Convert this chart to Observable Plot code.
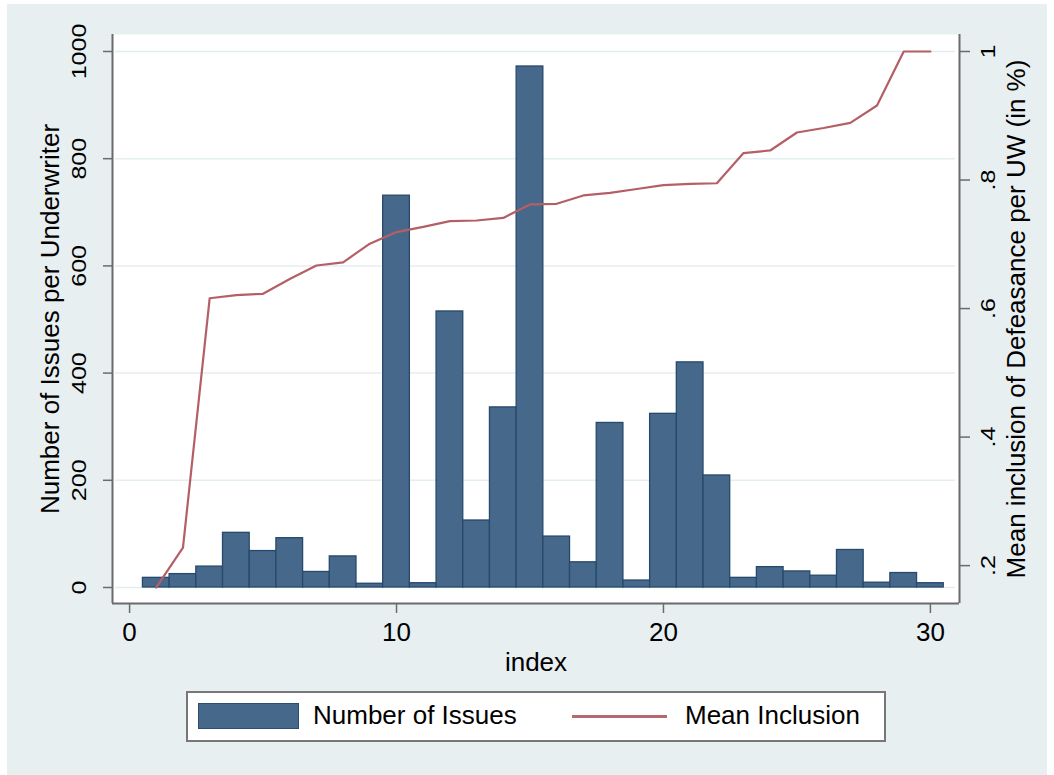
<!DOCTYPE html>
<html>
<head>
<meta charset="utf-8">
<script src="https://cdn.jsdelivr.net/npm/d3@7"></script>
<script src="https://cdn.jsdelivr.net/npm/@observablehq/plot@0.6"></script>
<style>
  body { margin: 0; background: #fff; font-family: "Liberation Sans", Arial, sans-serif; }
  #page { position: relative; width: 1054px; height: 775px; overflow: hidden; background: #fff; }
  #bg { position: absolute; left: 7px; top: 4px; width: 1040px; height: 771px; background: #e8eff1; }
  #chart { position: absolute; left: 0; top: 0; }
  #legend { position: absolute; left: 186px; top: 691px; width: 700px; height: 51px; box-sizing: border-box;
            border: 2px solid #777; background: #fff; }
  #legend .sw { position: absolute; left: 10px; top: 10px; width: 99px; height: 24px; background: #46698b; border: 1px solid #2a4d70; }
  #legend .ln { position: absolute; left: 384px; top: 22px; width: 95px; height: 3px; background: #b8676d; }
  #legend .t { position: absolute; top: 7px; font-size: 26px; line-height: 30px; color: #000; white-space: nowrap; }
</style>
</head>
<body>
<div id="page">
  <div id="bg"></div>
  <div id="chart"></div>
  <div id="legend">
    <div class="sw"></div><div class="t" id="lg1" style="left:125px"></div>
    <div class="ln"></div><div class="t" id="lg2" style="left:497px"></div>
  </div>
</div>
<script>
// ---- data ----
const index = [1,2,3,4,5,6,7,8,9,10,11,12,13,14,15,16,17,18,19,20,21,22,23,24,25,26,27,28,29,30];
const issues = [18,25,39,102,68,92,29,58,7,731,8,515,125,336,972,95,47,307,13,324,420,209,18,38,30,22,70,9,27,8];
const inclusion = [0.166,0.228,0.616,0.621,0.623,0.646,0.667,0.672,0.701,0.719,0.727,0.736,0.737,0.741,0.762,0.763,0.776,0.780,0.786,0.792,0.794,0.795,0.842,0.846,0.874,0.881,0.889,0.916,1.0,1.0];
const xTicks = [0,10,20,30];
const leftTicks = [0,200,400,600,800,1000];
const rightTicks = [0.2,0.4,0.6,0.8,1];
const rightLabels = [".2",".4",".6",".8","1"];
const seriesNames = ["Number of Issues","Mean Inclusion"];
const xTitle = "index";
const leftTitle = "Number of Issues per Underwriter";
const rightTitle = "Mean inclusion of Defeasance per UW (in %)";

// ---- layout ----
const xDomain = [-0.64, 31.09];
const yDomain = [-29.85, 1031.7];
// secondary (right) axis expressed in left-axis units
const toLeft = v => 1000 - (1 - v) * 1199;
const rightLabelOf = new Map(rightTicks.map((v, i) => [toLeft(v), rightLabels[i]]));

const rows = index.map((d, i) => ({index: d, issues: issues[i], inclusion: inclusion[i]}));
const axisColor = "#6b6b6b";

const chart = Plot.plot({
  width: 1054, height: 680,
  marginLeft: 112, marginRight: 95, marginTop: 34, marginBottom: 77,
  style: {fontFamily: '"Liberation Sans", Arial, sans-serif', fontSize: "25px", background: "transparent", color: "#000", overflow: "visible"},
  x: {domain: xDomain},
  y: {domain: yDomain},
  marks: [
    Plot.frame({fill: "#fff", stroke: "none"}),
    Plot.gridY(leftTicks, {stroke: "#e4edf0", strokeOpacity: 1, strokeWidth: 1.5, insetLeft: 3, insetRight: 4}),
    Plot.rect(rows, {x1: d => d.index - 0.5, x2: d => d.index + 0.5, y1: 0, y2: "issues",
                     fill: "#46698b", stroke: "#27496b", strokeWidth: 1.3}),
    Plot.line(rows, {x: "index", y: d => toLeft(d.inclusion), stroke: "#b45f66", strokeWidth: 2.2}),
    Plot.ruleX([xDomain[0], xDomain[1]], {stroke: axisColor, strokeWidth: 2}),
    Plot.ruleY([yDomain[0]], {stroke: axisColor, strokeWidth: 2}),
    Plot.axisX(xTicks, {anchor: "bottom", tickSize: 10, tickPadding: 9, stroke: axisColor, strokeWidth: 1.5,
                        fill: "#000", fontSize: 26, label: null, tickFormat: d => String(d)}),
    Plot.axisY(leftTicks, {anchor: "left", tickSize: 9, tickPadding: 18, tickRotate: -90, stroke: axisColor,
                           strokeWidth: 1.5, fill: "#000", fontSize: 25, label: null, tickFormat: d => String(d)}),
    Plot.axisY(rightTicks.map(toLeft), {anchor: "right", tickSize: 10, tickPadding: 11, tickRotate: -90,
                           lineAnchor: "top", stroke: axisColor, strokeWidth: 1.5, fill: "#000", fontSize: 25,
                           tickFormat: d => rightLabelOf.get(d), label: null}),
    Plot.text([xTitle], {frameAnchor: "bottom", dy: 67, lineAnchor: "bottom", textAnchor: "middle", fontSize: 26, fill: "#000"}),
    Plot.text([leftTitle], {frameAnchor: "left", dx: -72, rotate: -90, textAnchor: "middle", lineAnchor: "top", fontSize: 26, fill: "#000"}),
    Plot.text([rightTitle], {frameAnchor: "right", dx: 47, rotate: -90, textAnchor: "middle", lineAnchor: "top", fontSize: 26, fill: "#000"})
  ]
});

// thin rotated tick labels like the reference
chart.querySelectorAll('g[aria-label="y-axis tick label"] text').forEach(t => {
  const tr = t.getAttribute("transform") || "";
  t.setAttribute("transform", tr + " scale(1,0.8)");
});

document.getElementById("chart").appendChild(chart);
document.getElementById("lg1").textContent = seriesNames[0];
document.getElementById("lg2").textContent = seriesNames[1];
</script>
</body>
</html>
